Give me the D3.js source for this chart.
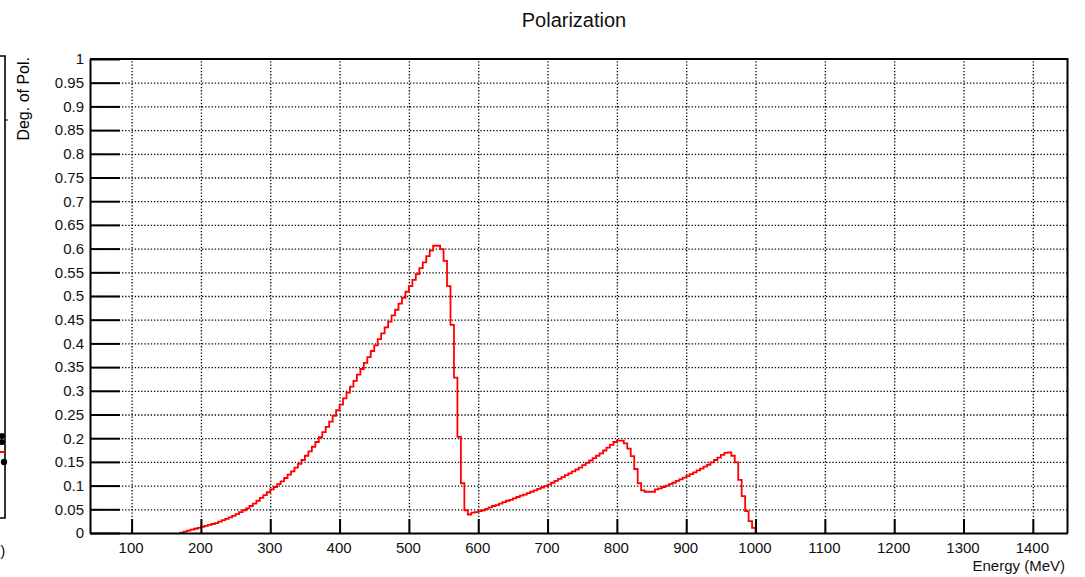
<!DOCTYPE html>
<html>
<head>
<meta charset="utf-8">
<script src="https://cdn.jsdelivr.net/npm/d3@7"></script>
<style>
  html, body { margin: 0; padding: 0; background: #fff; }
  svg { display: block; font-family: "Liberation Sans", Arial, Helvetica, sans-serif; }
</style>
</head>
<body>
<svg id="chart" width="1085" height="577"></svg>
<script>
// Histogram binning: 5 MeV bins, first filled bin starts at 170 MeV
const binLow = 170;
const binWidth = 5;

// Degree of polarization per bin (170 MeV ... 995 MeV)
const polarization = [
  0.001, 0.003, 0.005, 0.007, 0.009, 0.011,                               // 170-195
  0.013, 0.015, 0.017, 0.019, 0.021, 0.024, 0.027, 0.030, 0.033, 0.036,  // 200-245
  0.040, 0.044, 0.048, 0.052, 0.057, 0.062, 0.068, 0.074, 0.080, 0.086,  // 250-295
  0.092, 0.097, 0.103, 0.109, 0.116, 0.123, 0.130, 0.138, 0.146, 0.154,  // 300-345
  0.163, 0.172, 0.182, 0.192, 0.202, 0.213, 0.224, 0.235, 0.247, 0.259,  // 350-395
  0.271, 0.284, 0.296, 0.309, 0.321, 0.334, 0.346, 0.359, 0.371, 0.384,  // 400-445
  0.396, 0.409, 0.421, 0.434, 0.446, 0.459, 0.471, 0.484, 0.496, 0.509,  // 450-495
  0.521, 0.534, 0.546, 0.559, 0.571, 0.584, 0.596, 0.606, 0.606, 0.599,  // 500-545
  0.574, 0.521, 0.439, 0.328, 0.203, 0.105, 0.048, 0.039, 0.043, 0.044,  // 550-595
  0.046, 0.048, 0.051, 0.054, 0.057, 0.059, 0.062, 0.065, 0.068, 0.070,  // 600-645
  0.073, 0.076, 0.079, 0.081, 0.084, 0.087, 0.090, 0.093, 0.096, 0.099,  // 650-695
  0.102, 0.106, 0.110, 0.114, 0.118, 0.122, 0.126, 0.130, 0.134, 0.138,  // 700-745
  0.143, 0.148, 0.153, 0.158, 0.163, 0.168, 0.174, 0.180, 0.186, 0.192,  // 750-795
  0.195, 0.195, 0.189, 0.178, 0.162, 0.135, 0.105, 0.090, 0.087, 0.087,  // 800-845
  0.087, 0.092, 0.094, 0.097, 0.100, 0.103, 0.106, 0.110, 0.113, 0.117,  // 850-895
  0.120, 0.124, 0.128, 0.132, 0.136, 0.140, 0.144, 0.149, 0.154, 0.159,  // 900-945
  0.165, 0.169, 0.170, 0.163, 0.149, 0.112, 0.078, 0.046, 0.025, 0.011   // 950-995
];

const energyRange = [40, 1450];
const polRange = [0, 1];
const energyTicks = [100, 200, 300, 400, 500, 600, 700, 800, 900, 1000, 1100, 1200, 1300, 1400];
const polTicks = [0, 0.05, 0.1, 0.15, 0.2, 0.25, 0.3, 0.35, 0.4, 0.45, 0.5,
                  0.55, 0.6, 0.65, 0.7, 0.75, 0.8, 0.85, 0.9, 0.95, 1];

const svg = d3.select("#chart");
const frame = { left: 90, right: 1067.5, top: 59, bottom: 533 };

const x = d3.scaleLinear(energyRange, [frame.left, frame.right]);
const y = d3.scaleLinear(polRange, [frame.bottom, frame.top]);

// --- neighbouring pad, cut at the left edge ---
const pad = svg.append("g").attr("class", "neighbour");
pad.append("path")
  .attr("d", "M-2,56H5V518H-2")
  .attr("fill", "none").attr("stroke", "#000").attr("stroke-width", 1.6);
pad.append("line").attr("x1", 5).attr("x2", 8).attr("y1", 120).attr("y2", 120)
  .attr("stroke", "#000").attr("stroke-width", 1);
pad.append("text")
  .attr("transform", "translate(29,57) rotate(-90)")
  .attr("text-anchor", "end")
  .attr("font-size", 16)
  .text("Deg. of Pol.");
pad.append("circle").attr("cx", 2).attr("cy", 436).attr("r", 3).attr("fill", "#000");
pad.append("circle").attr("cx", 2).attr("cy", 442).attr("r", 3).attr("fill", "#000");
pad.append("line").attr("x1", 0).attr("x2", 5).attr("y1", 452).attr("y2", 452)
  .attr("stroke", "#f00").attr("stroke-width", 2);
pad.append("circle").attr("cx", 4).attr("cy", 462).attr("r", 3.2).attr("fill", "#000");
pad.append("text").attr("x", 0.5).attr("y", 556).attr("font-size", 14).text(")");

// --- dotted grid ---
const gridV = svg.append("g")
  .attr("transform", `translate(0,${frame.bottom})`)
  .call(d3.axisBottom(x).tickValues(energyTicks)
    .tickSize(-(frame.bottom - frame.top)).tickFormat(""));
gridV.select(".domain").remove();
gridV.selectAll("line").attr("stroke", "#000").attr("stroke-width", 1.3)
  .attr("stroke-dasharray", "1.3 1.9");

const gridH = svg.append("g")
  .attr("transform", `translate(${frame.left},0)`)
  .call(d3.axisLeft(y).tickValues(polTicks.filter(v => v > 0 && v < 1))
    .tickSize(-(frame.right - frame.left)).tickFormat(""));
gridH.select(".domain").remove();
gridH.selectAll("line").attr("stroke", "#000").attr("stroke-width", 1.3)
  .attr("stroke-dasharray", "1.3 1.9");

// --- histogram outline ---
const steps = [[binLow, 0]];
polarization.forEach((v, i) => steps.push([binLow + i * binWidth, v]));
steps.push([binLow + polarization.length * binWidth, 0]);

const histLine = d3.line()
  .x(d => x(d[0]))
  .y(d => y(d[1]))
  .curve(d3.curveStepAfter);

svg.append("path")
  .datum(steps)
  .attr("d", histLine)
  .attr("fill", "none")
  .attr("stroke", "#ff0000")
  .attr("stroke-width", 1.8)
  .attr("stroke-linejoin", "miter");

// --- frame (top / right) ---
svg.append("path")
  .attr("d", `M${frame.left},${frame.top}H${frame.right}V${frame.bottom}`)
  .attr("fill", "none").attr("stroke", "#000").attr("stroke-width", 2);

// --- axes ---
const yAxis = svg.append("g")
  .attr("transform", `translate(${frame.left},0)`)
  .call(d3.axisLeft(y).tickValues(polTicks).tickSize(-30).tickSizeOuter(0)
    .tickPadding(6).tickFormat(d3.format("~g")));
yAxis.selectAll("line").attr("stroke", "#000").attr("stroke-width", 2);
yAxis.select(".domain").attr("stroke", "#000").attr("stroke-width", 2);
yAxis.selectAll("text").attr("font-size", 15).attr("fill", "#111")
  .attr("font-family", "Liberation Sans, Arial, sans-serif");

const xAxis = svg.append("g")
  .attr("transform", `translate(0,${frame.bottom})`)
  .call(d3.axisBottom(x).tickValues(energyTicks).tickSize(-14).tickSizeOuter(0)
    .tickPadding(9).tickFormat(d3.format("d")));
xAxis.selectAll("line").attr("stroke", "#000").attr("stroke-width", 2);
xAxis.select(".domain").attr("stroke", "#000").attr("stroke-width", 2);
xAxis.selectAll("text").attr("font-size", 15).attr("fill", "#111")
  .attr("font-family", "Liberation Sans, Arial, sans-serif")
  .attr("dx", -1);

// --- titles ---
svg.append("text")
  .attr("x", 1065).attr("y", 571)
  .attr("text-anchor", "end")
  .attr("font-size", 15).attr("fill", "#111")
  .text("Energy (MeV)");

svg.append("text")
  .attr("x", 574).attr("y", 27)
  .attr("text-anchor", "middle")
  .attr("font-size", 20).attr("fill", "#111")
  .text("Polarization");
</script>
</body>
</html>
